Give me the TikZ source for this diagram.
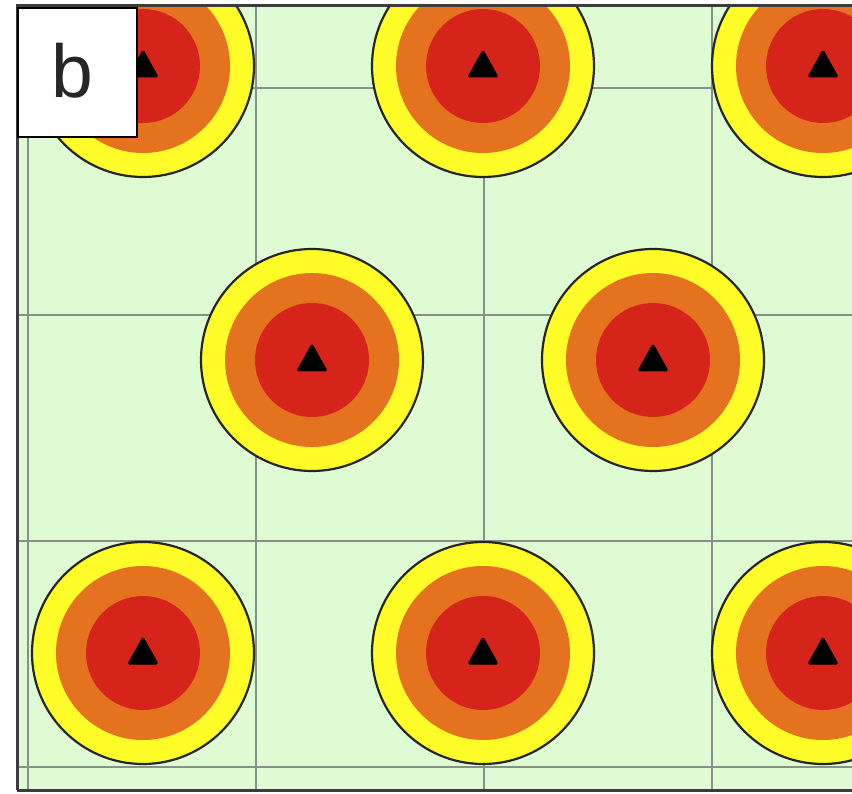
\documentclass[tikz,border=0pt]{standalone}
\usepackage{fontspec}
\setmainfont{Liberation Sans}
\definecolor{bggreen}{RGB}{222,251,212}
\definecolor{gridgray}{RGB}{135,145,135}
\definecolor{ryellow}{RGB}{255,252,40}
\definecolor{rorange}{RGB}{228,114,30}
\definecolor{rred}{RGB}{214,36,26}
\definecolor{framegray}{RGB}{60,60,60}
\tikzset{
  gridline/.style={draw=gridgray,line width=2.2pt},
  outerring/.style={fill=ryellow,draw=black!85,line width=2.2pt},
  midring/.style={fill=rorange},
  innerdisc/.style={fill=rred},
  marker/.style={fill=black,draw=black,line width=1pt,line join=round,rounded corners=1.5pt},
  framelinestyle/.style={draw=framegray,line width=3pt},
  labelbox/.style={draw=black,fill=white,line width=2.5pt,minimum width=119pt,minimum height=129pt,inner sep=0pt},
  labeltext/.style={inner sep=0pt,font=\fontsize{75}{80}\selectfont,text=black!85}
}
\begin{document}
\begin{tikzpicture}[x=1pt,y=-1pt]
\useasboundingbox (0,0) rectangle (852,794);
\begin{scope}
\clip (17,6) rectangle (852,790);
\fill[bggreen] (17,6) rectangle (852,790);
% grid
\foreach \gx in {28,256,484,712} {\draw[gridline] (\gx,6) -- (\gx,790);}
\foreach \gy in {88,315,541,767} {\draw[gridline] (17,\gy) -- (852,\gy);}
% hazard circles
\foreach \cx/\cy in {143/66,483/66,823/66,312/360,653/360,143/653,483/653,823/653} {
  \draw[outerring] (\cx,\cy) circle[radius=111];
  \fill[midring] (\cx,\cy) circle[radius=87];
  \fill[innerdisc] (\cx,\cy) circle[radius=57];
  \draw[marker] (\cx,\cy-16) -- (\cx+15,\cy+11) -- (\cx-15,\cy+11) -- cycle;
}
\end{scope}
% frame
\draw[framelinestyle] (17,790) -- (17,6) -- (852,6);
\draw[framelinestyle] (17,790) -- (852,790);
% label
\node[labelbox] (lbl) at (77.5,72.5) {};
\node[labeltext] (lbltext) at (72,71) {b};
\end{tikzpicture}
\end{document}
